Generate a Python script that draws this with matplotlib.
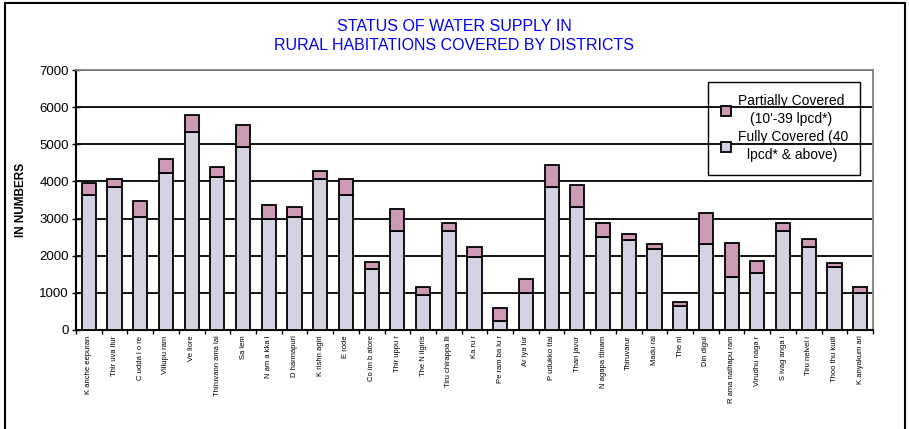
import matplotlib
matplotlib.use('Agg')
import matplotlib.pyplot as plt
from matplotlib.patches import Rectangle
import numpy as np

# districts as printed on the x axis
districts = ['K anche eepuran', 'Thir uva llur', 'C udda l o re', 'Villupu ram', 'Ve llore',
             'Thiruvann ama lai', 'Sa lem', 'N am a kka l', 'D harmapuri', 'K rishn agiri',
             'E rode', 'Co im b atore', 'Thir uppu r', 'The N ilgiris', 'Tiru chirappa lli',
             'Ka ru r', 'Pe ram ba lu r', 'Ar iya lur', 'P udukko ttai', 'Than javur',
             'N agapa ttinam', 'Thiruvarur', 'Madu rai', 'The ni', 'Din digul',
             'R ama nathapu ram', 'Virudhu naga r', 'S ivag anga i', 'Tiru nelvel i',
             'Thoo thu kudi', 'K anyakum ari']

# fully covered (40 lpcd & above)
fully = [3635, 3842, 3034, 4219, 5341, 4120, 4919, 2989, 3043, 4057,
         3636, 1652, 2666, 943, 2666, 1966, 242, 1005, 3842, 3321,
         2513, 2415, 2190, 655, 2307, 1436, 1544, 2666, 2244, 1697, 1005]

# total height of each bar, partial = total - fully
total = [3950, 4066, 3474, 4605, 5781, 4381, 5512, 3366, 3321, 4291,
         4066, 1822, 3259, 1167, 2882, 2235, 583, 1382, 4434, 3905,
         2882, 2576, 2307, 745, 3160, 2352, 1867, 2882, 2460, 1813, 1167]
partial = [t - f for t, f in zip(total, fully)]

plt.rcParams['font.family'] = ['Liberation Sans', 'DejaVu Sans']

fig = plt.figure(figsize=(9.09, 4.29), dpi=100)
ax = fig.add_axes([0.0836, 0.2308, 0.8768, 0.606])

x = np.arange(len(districts))
w = 0.55
ax.bar(x, fully, w, color='#d2d2e2', edgecolor='black', linewidth=1.3,
       label="Fully Covered (40\nlpcd* & above)", zorder=3)
ax.bar(x, partial, w, bottom=fully, color='#cc9ab4', edgecolor='black', linewidth=1.3,
       label="Partially Covered\n(10'-39 lpcd*)", zorder=3)

ax.set_xlim(-0.5, len(districts) - 0.5)
ax.set_ylim(0, 7000)
ax.set_yticks(range(0, 7001, 1000))
ax.yaxis.grid(True, color='black', linewidth=1.3, zorder=1)
ax.set_axisbelow(True)

ax.set_xticks(x)
ax.set_xticklabels(districts, rotation=90, fontsize=5.5)
ax.tick_params(axis='x', length=0, pad=4)
ax.set_xticks(np.arange(-0.5, len(districts), 1), minor=True)
ax.tick_params(axis='x', which='minor', length=3, width=1, direction='out')
ax.tick_params(axis='y', direction='inout', length=6, width=1, labelsize=9.5, pad=2)

for s in ['top', 'right']:
    ax.spines[s].set_color('#808080')
    ax.spines[s].set_linewidth(1.3)
for s in ['left', 'bottom']:
    ax.spines[s].set_linewidth(1.5)

ax.set_ylabel('IN NUMBERS', fontsize=8.5, fontweight='bold', labelpad=9)

h, l = ax.get_legend_handles_labels()
leg = ax.legend(h[::-1], l[::-1], loc='upper right', bbox_to_anchor=(0.984, 0.954),
                fontsize=10, frameon=True, fancybox=False, borderaxespad=0,
                edgecolor='black', handlelength=0.7, handleheight=0.7,
                handletextpad=0.5, borderpad=0.9, labelspacing=0.3)
leg.get_frame().set_facecolor('none')
leg.get_frame().set_alpha(None)
leg.get_frame().set_linewidth(1)
for t in leg.get_texts():
    t.set_multialignment('center')
    t.set_linespacing(1.35)

fig.text(0.5, 0.916, 'STATUS OF WATER SUPPLY IN\nRURAL HABITATIONS COVERED BY DISTRICTS',
         ha='center', va='center', color='#0000ff', fontsize=11.5, linespacing=1.4)

fig.patches.append(Rectangle((5 / 909, -0.02), 900 / 909, 1 - 3 / 429 + 0.02,
                             transform=fig.transFigure, fill=False,
                             edgecolor='black', linewidth=1.5))

plt.savefig('out.png', dpi=100)
